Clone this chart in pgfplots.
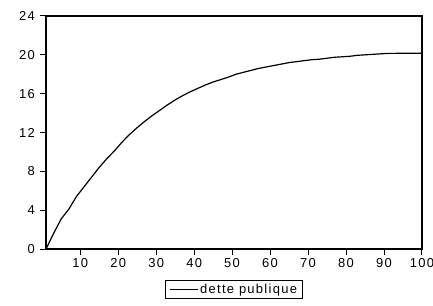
\documentclass[border=0pt]{standalone}
\usepackage{fontspec}
\setmainfont{Liberation Sans}
\newfontfamily\ev{Liberation Sans}[LetterSpace=10]
\usepackage{pgfplots}
\pgfplotsset{compat=1.18}
\begin{document}
\begin{tikzpicture}
\path[use as bounding box] (0bp,0bp) rectangle (433bp,306bp);
\begin{axis}[
  at={(46bp,57bp)}, anchor=south west,
  width=376bp, height=233bp, scale only axis,
  xmin=1, xmax=100, ymin=0, ymax=24,
  xtick={10,20,...,100}, ytick={0,4,...,24},
  tick pos=left,
  tick align=outside,
  major tick length=6bp,
  line width=1.5bp,
  every tick/.style={line width=1bp, black},
  ticklabel style={font=\ev\fontsize{13}{15}\selectfont},
  yticklabel style={xshift=-1bp},
  xticklabel style={yshift=1bp},
  /pgf/number format/assume math mode=true,
  legend style={at={(0.5,-0.135)}, anchor=north, draw=black, line width=0.9bp,
    font=\ev\fontsize{13}{15}\selectfont, inner xsep=3bp, inner ysep=1.5bp},
  legend image code/.code={\draw[#1] (0bp,0bp) -- (28bp,0bp);},
]
\addplot[black, line width=1.2bp] coordinates {
(1,0) (3,1.6) (5,3.1) (7,4.1) (9,5.4) (11,6.4) (13,7.4) (15,8.4) (17,9.3)
(19,10.1) (21,11.0) (23,11.8) (25,12.5) (27,13.15) (29,13.75) (31,14.3)
(33,14.85) (35,15.35) (37,15.8) (39,16.2) (41,16.55) (43,16.9) (45,17.2)
(47,17.45) (49,17.7) (51,18.0) (53,18.2) (55,18.4) (57,18.6) (59,18.75)
(61,18.9) (63,19.05) (65,19.2) (67,19.3) (69,19.4) (71,19.5) (73,19.55)
(75,19.65) (77,19.75) (79,19.8) (81,19.85) (83,19.95) (85,20.0) (87,20.05)
(89,20.1) (91,20.15) (93,20.15) (95,20.17) (97,20.17) (100,20.17)
};
\legend{dette publique}
\end{axis}
\end{tikzpicture}
\end{document}
